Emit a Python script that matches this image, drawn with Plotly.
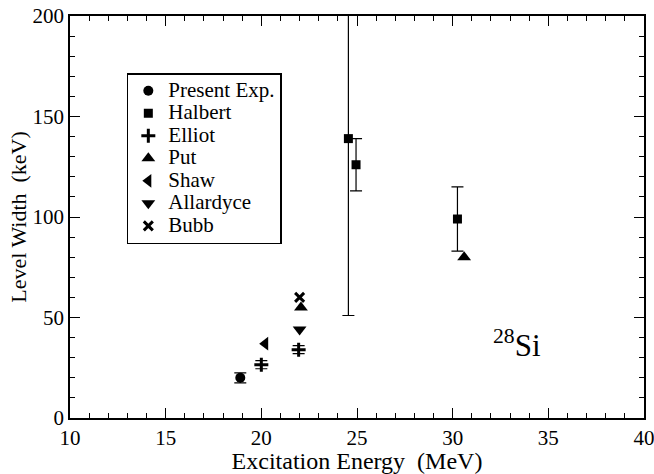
import plotly.graph_objects as go

# Data
present_x = [18.9]; present_y = [20]; present_err = [2.5]
halbert_x = [24.55, 24.95, 30.25]; halbert_y = [139, 126, 99]; halbert_err = [88, 13, 16]
elliot_x = [20.0, 21.95]; elliot_y = [26.5, 34]; elliot_err = [2, 2]
put_x = [22.07, 30.6]; put_y = [55, 80]
shaw_x = [20.2]; shaw_y = [37]
allardyce_x = [22.0]; allardyce_y = [44]
bubb_x = [22.0]; bubb_y = [60]

serif = "Liberation Serif"
fig = go.Figure()

def eb(err):
    return dict(type="data", array=err, visible=True, color="black", thickness=1.2, width=6)

def lab(t):
    return "<span style='font-size:21px'>" + t + "</span>"

fig.add_trace(go.Scatter(x=present_x, y=present_y, mode="markers", name=lab("Present Exp."),
    error_y=eb(present_err), marker=dict(symbol="circle", size=10, color="black")))
fig.add_trace(go.Scatter(x=halbert_x, y=halbert_y, mode="markers", name=lab("Halbert"),
    error_y=eb(halbert_err), marker=dict(symbol="square", size=9, color="black")))
fig.add_trace(go.Scatter(x=elliot_x, y=elliot_y, mode="markers", name=lab("Elliot"),
    error_y=eb(elliot_err), marker=dict(symbol="cross-thin-open", size=10, color="black", line=dict(width=3, color="black"))))
fig.add_trace(go.Scatter(x=put_x, y=put_y, mode="markers", name=lab("Put"),
    marker=dict(symbol="triangle-up", size=12, color="black")))
fig.add_trace(go.Scatter(x=shaw_x, y=shaw_y, mode="markers", name=lab("Shaw"),
    marker=dict(symbol="triangle-left", size=12, color="black")))
fig.add_trace(go.Scatter(x=allardyce_x, y=allardyce_y, mode="markers", name=lab("Allardyce"),
    marker=dict(symbol="triangle-down", size=12, color="black")))
fig.add_trace(go.Scatter(x=bubb_x, y=bubb_y, mode="markers", name=lab("Bubb"),
    marker=dict(symbol="x-thin-open", size=9, color="black", line=dict(width=3, color="black"))))

fig.add_annotation(x=32.0, y=37, xref="x", yref="y", xanchor="left", yanchor="middle",
    text="<sup>28</sup>Si", showarrow=False, font=dict(family=serif, size=31, color="black"))

axis_common = dict(showline=True, linecolor="black", linewidth=1.5, mirror="ticks",
    ticks="inside", ticklen=10, tickwidth=1.2, tickcolor="black", showgrid=False, zeroline=False,
    ticklabeloverflow="allow", tickfont=dict(family=serif, size=21, color="black"))

fig.update_xaxes(range=[10, 40], dtick=5, tick0=10, automargin=False,
    minor=dict(dtick=1, ticks="inside", ticklen=5, tickcolor="black", tickwidth=1.2, showgrid=False),
    title=dict(text="Excitation Energy&nbsp; (MeV)", font=dict(family=serif, size=24, color="black")),
    **axis_common)
fig.update_yaxes(range=[0, 200], dtick=50, tick0=0, automargin="left",
    minor=dict(dtick=10, ticks="inside", ticklen=5, tickcolor="black", tickwidth=1.2, showgrid=False),
    title=dict(text="Level Width&nbsp; (keV)", font=dict(family=serif, size=22, color="black"), standoff=0),
    **axis_common)

fig.update_layout(width=654, height=474, margin=dict(l=70, r=10, t=16, b=56),
    plot_bgcolor="white", paper_bgcolor="white",
    legend=dict(x=0.099, y=0.858, xanchor="left", yanchor="top", bordercolor="black", borderwidth=1.5,
        bgcolor="white", font=dict(family=serif, size=15, color="black"), tracegroupgap=0, itemwidth=30),
    showlegend=True)

fig.write_html("out.html")
